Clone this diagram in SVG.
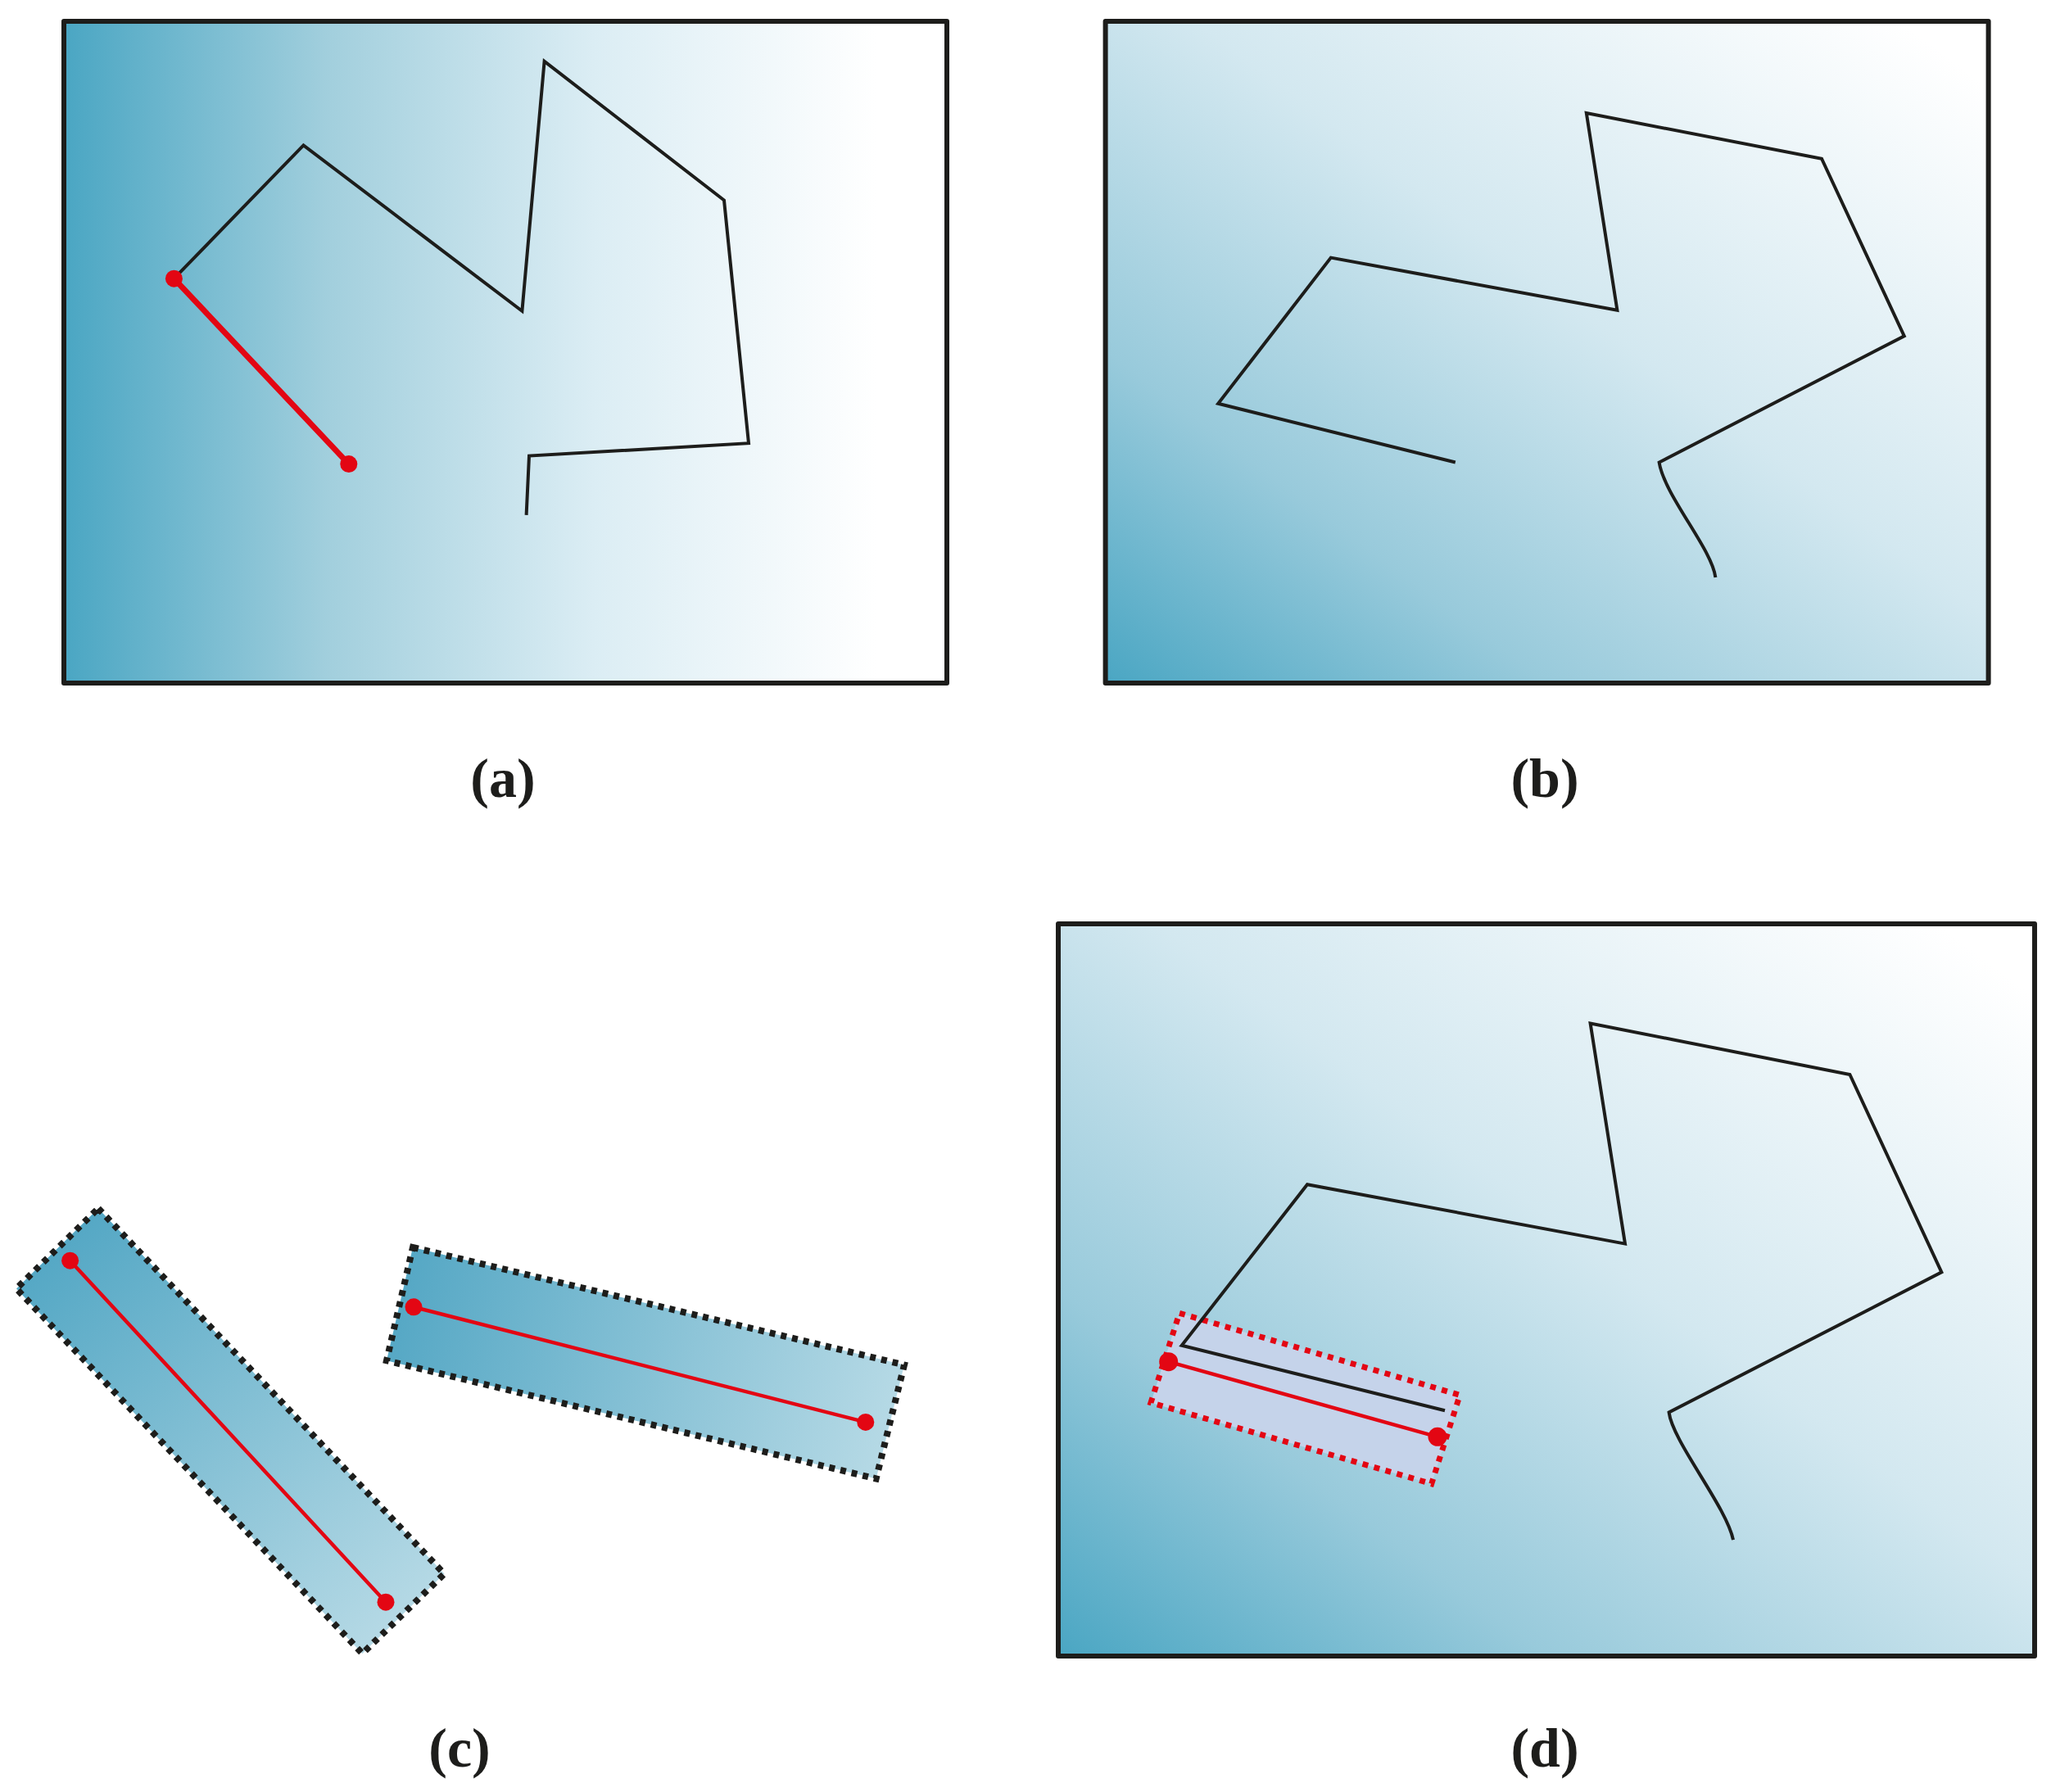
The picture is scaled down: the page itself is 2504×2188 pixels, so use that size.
<svg xmlns="http://www.w3.org/2000/svg" width="2504" height="2188" viewBox="0 0 2504 2188">
<defs>
<linearGradient id="gA" x1="0" y1="0" x2="1" y2="0">
<stop offset="0" stop-color="#4aa6c3"/>
<stop offset="0.3" stop-color="#a2cfdd"/>
<stop offset="0.6" stop-color="#dbedf4"/>
<stop offset="0.92" stop-color="#ffffff"/>
</linearGradient>
<linearGradient id="gB" x1="0" y1="1" x2="1" y2="0">
<stop offset="0" stop-color="#4aa6c3"/>
<stop offset="0.25" stop-color="#98cadb"/>
<stop offset="0.55" stop-color="#d3e8f0"/>
<stop offset="0.95" stop-color="#ffffff"/>
</linearGradient>
<linearGradient id="gC1" gradientUnits="userSpaceOnUse" x1="70" y1="1525" x2="495" y2="1970">
<stop offset="0" stop-color="#55a8c5"/>
<stop offset="1" stop-color="#b5d9e5"/>
</linearGradient>
<linearGradient id="gC2" gradientUnits="userSpaceOnUse" x1="490" y1="1590" x2="1085" y2="1736">
<stop offset="0" stop-color="#56a8c5"/>
<stop offset="1" stop-color="#b5d9e5"/>
</linearGradient>
</defs>
<style>
.frame{stroke:#1d1d1b;stroke-width:6;stroke-linejoin:round}
.path{fill:none;stroke:#1d1d1b;stroke-width:4;stroke-linejoin:miter}
.seg{fill:none;stroke:#e30613;stroke-linecap:round}
.dot{fill:#e30613}
.dotbox{stroke:#1d1d1b;stroke-width:8;stroke-dasharray:7 7}
.redbox{fill:#c5d3ea;stroke:#e30613;stroke-width:7;stroke-dasharray:7 7.5}
.lbl{font-family:"Liberation Serif","Times New Roman",serif;font-weight:bold;font-size:68px;fill:#1d1d1b;text-anchor:middle}
</style>
<rect width="2504" height="2188" fill="#ffffff"/>

<g id="panel-a">
<rect class="frame" x="78" y="26" width="1078" height="808" fill="url(#gA)"/>
<polyline class="path" points="212.4,340.2 370.5,177.3 637.4,379.8 664.6,74.8 884,244.5 914,541.2 646,556.6 642.6,628.9"/>
<line class="seg" x1="212.4" y1="340.2" x2="425.8" y2="566.6" stroke-width="7"/>
<circle class="dot" cx="212.4" cy="340.2" r="10.5"/>
<circle class="dot" cx="425.8" cy="566.6" r="10.5"/>
</g>
<text id="label-a" class="lbl" x="614" y="973">(a)</text>

<g id="panel-b">
<rect class="frame" x="1349.6" y="26" width="1078" height="808" fill="url(#gB)"/>
<path class="path" d="M1776.8,564.5 L1487.2,492.8 L1624.8,314.6 L1974.4,378.8 L1936.8,138.1 L2224,193.7 L2324.8,410.3 L2025.6,564.5 C2032,605 2090,670 2094.4,705"/>
</g>
<text id="label-b" class="lbl" x="1886" y="973">(b)</text>

<g id="panel-c">
<g id="box-c1">
<polygon class="dotbox" points="120,1475.4 542.4,1921.6 442.4,2019 20,1573.4" fill="url(#gC1)"/>
<line class="seg" x1="85.6" y1="1539.2" x2="471" y2="1956.2" stroke-width="4.5"/>
<circle class="dot" cx="85.6" cy="1539.2" r="10.5"/>
<circle class="dot" cx="471" cy="1956.2" r="10.5"/>
</g>
<g id="box-c2">
<polygon class="dotbox" points="504,1523 1104,1666.5 1069.6,1805.5 472,1661.3" fill="url(#gC2)"/>
<line class="seg" x1="505" y1="1595.8" x2="1056.8" y2="1736.4" stroke-width="4.5"/>
<circle class="dot" cx="505" cy="1595.8" r="10.5"/>
<circle class="dot" cx="1056.8" cy="1736.4" r="10.5"/>
</g>
</g>
<text id="label-c" class="lbl" x="561" y="2157">(c)</text>

<g id="panel-d">
<rect class="frame" x="1292" y="1128" width="1192" height="894" fill="url(#gB)"/>
<polygon class="redbox" points="1440,1603.3 1782.3,1703.3 1747.7,1811.7 1405,1712.7"/>
<path class="path" d="M1764,1722.3 L1442.7,1642.7 L1596,1446.3 L1984,1518.6 L1941.6,1249.5 L2258.4,1312 L2370.4,1553.4 L2037.6,1724.4 C2042,1760 2108,1840 2116,1880.2"/>
<line class="seg" x1="1426.7" y1="1662.7" x2="1755" y2="1754.3" stroke-width="4.5"/>
<circle class="dot" cx="1426.7" cy="1662.7" r="11.5"/>
<circle class="dot" cx="1755" cy="1754.3" r="11.5"/>
</g>
<text id="label-d" class="lbl" x="1886" y="2157">(d)</text>
</svg>
